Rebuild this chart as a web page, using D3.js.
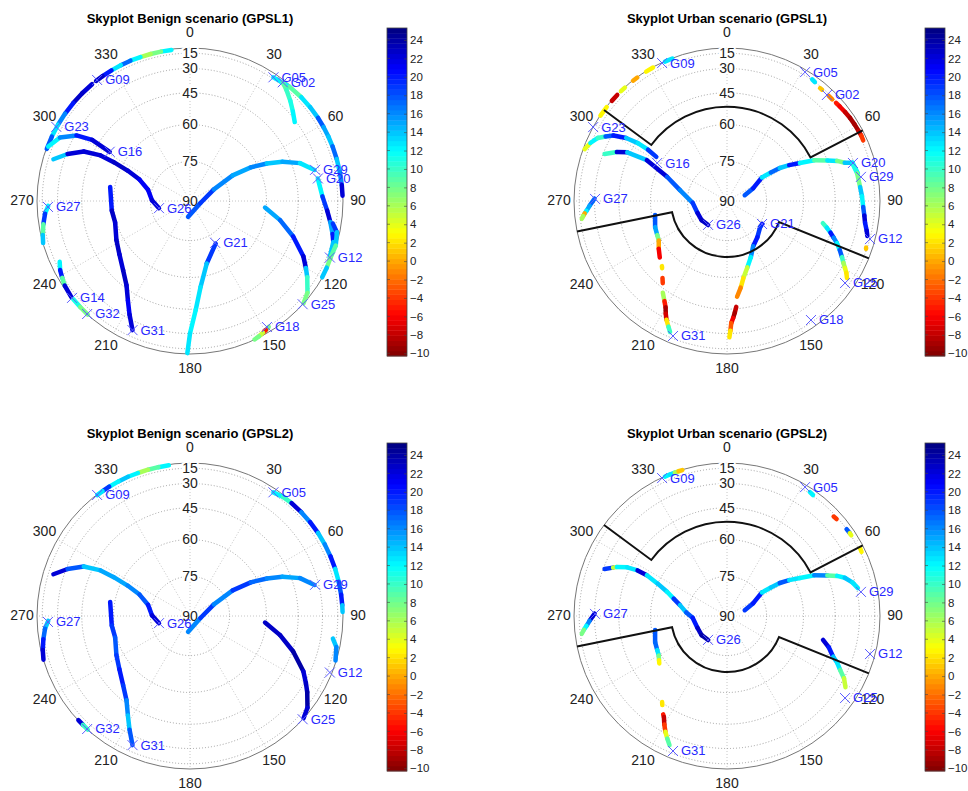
<!DOCTYPE html>
<html>
<head>
<meta charset="utf-8">
<script src="https://cdnjs.cloudflare.com/ajax/libs/d3/7.8.5/d3.min.js"></script>
<style>
  body { margin: 0; background: #fff; }
  svg { display: block; font-family: "Liberation Sans", Arial, Helvetica, sans-serif; }
</style>
</head>
<body>
<svg id="chart" width="968" height="791"></svg>
<script>
// ---- axes / colour range ----
const elevationTicks = [15, 30, 45, 60, 75, 90];
const azimuthTicks = d3.range(0, 360, 30);
const colorbarTicks = d3.range(-10, 25, 2);
const cn0Domain = [-10.3, 25.3];

// ---- satellites (marker = last epoch) ----
const benignSats = ["G09","G05","G02","G23","G16","G29","G20","G27","G26","G21","G12","G14","G32","G31","G25","G18"];
const benignAz   = [322.5, 34, 38, 299, 301.5, 76, 80, 267.6, 257, 149, 112, 230.6, 222.3, 204, 132.5, 148.6];
const benignEl   = [4.4, 12.8, 10, 2, 52, 32.6, 31.9, 21.7, 78, 71.4, 9.6, 4, 3, 22.5, 3, 15.2];
const benignL2Sats = ["G09","G05","G29","G27","G26","G12","G32","G31","G25"];

const urbanSats = ["G09","G05","G02","G23","G16","G20","G29","G27","G26","G21","G12","G25","G18","G31"];
const urbanAz   = [334.8, 31.2, 43.3, 298.9, 298.5, 73.2, 79.8, 270.9, 218.4, 123.3, 104.9, 124.8, 144.8, 201.8];
const urbanEl   = [5, 10, 17.8, 2, 58.7, 30.7, 27.2, 30.4, 78.5, 74.1, 14.7, 20, 17.8, 18.1];
const urbanL2Sats = ["G09","G05","G29","G27","G26","G12","G25","G31"];

// urban elevation mask: sector from azimuth, to azimuth, elevation
const maskFrom = [306.5, 112];
const maskTo   = [62.5, 258.5];
const maskEl   = [52, 68.5];

// ---- tracked arcs: [azimuth, elevation, C/N0 deviation] ----
const benignL1Arcs = [
  [[353,6,12],[349,6,8],[345,6,6],[341,6,12],[337,5,17],[333,5,13],[329,5,20],[325,5,23],[322,5,18]],
  [[320,5,22],[315,5,23],[310,5,20],[305,5,16],[300,5,13],[295,5,18],[290,5,13]],
  [[291,7,12],[296,19,16],[300,31,20],[302,41,22],[301.5,52,23]],
  [[287,21,14],[291,31,22],[295,40,22],[297,49,22],[297,56,23],[296,63,22],[293,69,21],[285,73.5,21],[271,75.6,22],[257,78,22]],
  [[187,84,18],[101,86,19],[64,80,16],[59,71,15],[61,63,16],[64,56,14],[67,49,15],[71,40.5,13],[76,33,14]],
  [[80,32,12],[88,30,19],[94,26,22],[98.5,22,15],[103,17,20],[106,13,14],[112,10,9]],
  [[99,19,19],[102,11,14],[107,5,9],[112,8,8],[116,6,14],[120,4,22]],
  [[34,13,12],[41,8,9],[47,6,13],[52,5,14],[57,4,18],[61,4,15],[65,4,14],[69,4,17],[74,4,14],[79,4,16],[84,4,22],[88,4,18]],
  [[38,10,9],[41,16,10],[45,22,11],[49,27,12],[53,31,9]],
  [[95,60.5,15],[102,53,17],[109,44.5,20],[116,34.5,22],[120,29,14],[123,24,10],[128,13,8],[132,3,12]],
  [[148,14,8],[149.5,12,-5],[151,10,5],[153,7,8],[155,3,11]],
  [[149,71,19],[165,65,14],[173,55.5,13],[177,44.5,12],[180,30,13],[181,6,8]],
  [[280,58,20],[263,59,23],[254,59.4,22],[242,57,23],[233,54.7,22],[224,51,23],[217,46.4,22],[212,40,21],[208,32.7,22],[204,22.5,20]],
  [[268,22,12],[265,18,19],[261,14,9],[257,9,14],[254,3,12]],
  [[245,20,12],[242,16,20],[239,13,9],[236,9,22],[231,4,18]],
  [[230,4,11],[226,4,8],[222,3,12]]
];

const benignL2Arcs = [
  [[352,6,12],[348,6,9],[344,6,6],[340,6,12],[336,5,14],[332,5,12],[328,5,19],[325,5,13],[322.5,5,22]],
  [[34,13,12],[38,9,10],[42,7,22],[47,6,16],[52,5,20],[57,4,14],[62,4,16],[67,4,20],[72,4,13],[77,4,18],[82,4,20],[86,4,14],[88.5,4,13]],
  [[187,84,16],[101,86,19],[64,80,16],[59,71,19],[61,63,17],[64,56,16],[67,49,15],[71,40.5,16],[76,33,18]],
  [[287,21,22],[291,31,18],[295,40,14],[297,49,15],[297,56,15],[296,63,16],[293,69,18],[285,73.5,20],[271,75.6,22],[257,78,21]],
  [[280,58,20],[263,59,19],[254,59.4,18],[242,57,19],[233,54.7,20],[224,51,19],[217,46.4,16],[212,40,14],[208,32.7,18],[204,22.5,20]],
  [[95,60.5,23],[102,53,23],[109,44.5,24],[116,34.5,22],[120,29,23],[123,24,24],[128,13,22],[132,3,21]],
  [[99,19,14],[102,12,16],[107,6,13]],
  [[268,22,14],[265,18,17],[261,14,20],[257,9,22],[253.4,2,13]],
  [[227,4,22],[224.5,4,10],[222,3,12]]
];

const urbanL1Arcs = [
  [[339,4,13],[336,4,4]], [[331,4,3],[328,4,1]], [[324,4,0],[322,4,3]],
  [[318,4,4],[316,4,-2]], [[314,4,-8],[311,4,4]], [[308,4,3],[304,4,0]],
  [[290,8,4],[293,14,12],[296,20,10],[298,26,18],[300,31,20],[302,39,14],[303,46,13],[303,52,19],[302,57,14]],
  [[291,31,10],[294,38,22],[296,43.5,14],[297,54,22],[292,65,18],[283,71.6,16],[267,77,19],[248,78,22],[233,78,23],[218,78.5,23]],
  [[271,30,17],[268,26,15],[266,23,12],[265,21,0],[264,19,6],[263,17,8]],
  [[259,61.4,18],[250,60,15],[244,59.5,8],[240,59,0],[235,57,-6],[230,55,-9]],
  [[225,53,2],[224,52.4,0]],
  [[220,49,-4],[218,47,-6]],
  [[215,43,6],[212,39.5,-5],[210,36.6,-9],[208.5,33,-7],[207,29.4,2],[205,25,10],[203.5,21,13]],
  [[123,74,20],[128,74,19],[140,72,20],[150,70,16],[157,66.5,12],[163,63,5],[168,59,2],[171,55,-1],[174,51,-4]],
  [[175,46,-8],[176,43,-9],[177,40,-6],[178,37,-3],[178.5,32,2],[179,27,8]],
  [[72,83,18],[64,79,20],[56,74,13],[57,70,17],[58,66,14],[60,62,20],[62.5,57.5,12],[65,51,9],[68,45,13],[70,40,8],[72,36,14],[73,31,13],[78,29,12]],
  [[74,31,11],[78,29.6,8],[84,29,14],[88,28,12],[92.5,27,18],[96,25.5,22],[99,24,20],[102,21,22],[104,19,12]],
  [[108.5,16.5,1],[109,16,0]],
  [[103,50,10],[105,47.5,13],[107,45,20],[109,42.5,16],[111,39.7,12],[113.5,36.5,18],[116,33.3,10],[118,30.5,6],[119.6,27.5,4],[121,24.5,2],[122.7,21.3,-8]],
  [[35,14,13],[36.5,15,12]], [[39.5,17,1],[40.5,17,0]], [[44,17,-1],[46,17,-4]],
  [[48,16.5,-5],[50,16,-6],[53,15,-8],[56,14,-9],[59,13.5,-9],[62,13,-8],[64,12.5,-4],[66,13,12]]
];

const urbanL2Arcs = [
  [[336,4,12],[338,4,13],[340,4,6],[341.5,4,1],[343,4,18]],
  [[33.8,13,12],[35.4,14,9]], [[47,17.6,-4],[48.5,17,1]],
  [[54,15,18],[56,14.5,4],[57,14.5,3]], [[63,12.5,3],[64.5,13,1]],
  [[72,83,19],[64,79,20],[56,74,13],[57,70,14],[58,66,18],[60,62,13],[62.5,57.5,12],[65,51,16],[68,45,9],[70,40,12],[72,36,14],[75,32,13],[78,29,20]],
  [[291,31,19],[293,36,5],[294,38,12],[296,43.5,13],[297,49,22],[297,54,13],[295,60,14],[292,65,12],[288,68.5,19],[283,71.6,14],[275,74.5,18],[267,77,20],[248,78,23],[233,78,24],[218,78.5,23]],
  [[271,30,22],[268,26,16],[266,23,12],[264.5,20,8],[263,17,6]],
  [[259,61.4,18],[250,60,17],[244,59.5,13],[240,59,8],[237,58,3],[235,57.3,-2]],
  [[217,45.2,2],[216,44,4]],
  [[213,40,-5],[212,38.9,-8],[210,35,-4],[208,31,4],[206,27,9],[204,22.5,12]],
  [[104,49.7,22],[107,46,20],[111,42,14],[113,38.5,13],[115.5,35,9],[118,30,5],[121,25.4,-2]]
];

// ---- layout ----
const R = 153;
const deg = Math.PI / 180;
const panels = [
  {cx: 190, cy: 201, top: 0, cbX: 387, title: "Skyplot Benign scenario (GPSL1)",
   arcs: benignL1Arcs, names: benignSats, az: benignAz, el: benignEl, show: benignSats, mask: false},
  {cx: 727, cy: 201, top: 0, cbX: 925, title: "Skyplot Urban scenario (GPSL1)",
   arcs: urbanL1Arcs, names: urbanSats, az: urbanAz, el: urbanEl, show: urbanSats, mask: true},
  {cx: 190, cy: 616, top: 415, cbX: 387, title: "Skyplot Benign scenario (GPSL2)",
   arcs: benignL2Arcs, names: benignSats, az: benignAz, el: benignEl, show: benignL2Sats, mask: false},
  {cx: 727, cy: 616, top: 415, cbX: 925, title: "Skyplot Urban scenario (GPSL2)",
   arcs: urbanL2Arcs, names: urbanSats, az: urbanAz, el: urbanEl, show: urbanL2Sats, mask: true}
];

const svg = d3.select("#chart");

// radius is R*cos(elevation); azimuth clockwise from north
const rScale = d3.scaleLinear().domain([0, 1]).range([0, R]);
const aScale = d3.scaleLinear().domain([0, 360]).range([0, 2 * Math.PI]);

function jet(t) {
  const c = v => Math.max(0, Math.min(1, v));
  return d3.rgb(255 * c(1.5 - Math.abs(4 * t - 3)),
                255 * c(1.5 - Math.abs(4 * t - 2)),
                255 * c(1.5 - Math.abs(4 * t - 1))).formatHex();
}
const jetColors = d3.range(64).map(i => jet(1 - (i + 0.5) / 64));
const color = d3.scaleQuantize().domain(cn0Domain).range(jetColors);

function drawPanel(p) {
  const g = svg.append("g");
  const proj = (az, el) => {
    const r = rScale(Math.cos(el * deg)), a = aScale(az);
    return [p.cx + r * Math.sin(a), p.cy - r * Math.cos(a)];
  };

  // title
  g.append("text")
    .attr("x", p.cx).attr("y", p.top + 20)
    .attr("text-anchor", "middle").attr("dominant-baseline", "middle")
    .attr("font-size", 13).attr("font-weight", "bold")
    .text(p.title);

  // spokes
  g.selectAll(".spoke").data(azimuthTicks).join("line")
    .attr("x1", p.cx).attr("y1", p.cy)
    .attr("x2", d => proj(d, 0)[0]).attr("y2", d => proj(d, 0)[1])
    .attr("stroke", "#b8b8b8").attr("stroke-width", 0.8).attr("stroke-dasharray", "1,2");

  // elevation rings
  g.selectAll(".ring").data(elevationTicks.slice(0, -1)).join("circle")
    .attr("cx", p.cx).attr("cy", p.cy)
    .attr("r", d => rScale(Math.cos(d * deg)))
    .attr("fill", "none").attr("stroke", "#8a8a8a").attr("stroke-width", 0.8).attr("stroke-dasharray", "1,2");

  g.append("circle")
    .attr("cx", p.cx).attr("cy", p.cy).attr("r", R)
    .attr("fill", "none").attr("stroke", "#777").attr("stroke-width", 1);

  // azimuth labels
  g.selectAll(".azl").data(azimuthTicks).join("text")
    .attr("x", d => p.cx + (R + 15) * Math.sin(aScale(d)))
    .attr("y", d => p.cy - (R + 15) * Math.cos(aScale(d)))
    .attr("text-anchor", "middle").attr("dominant-baseline", "middle")
    .attr("font-size", 14).attr("fill", "#222")
    .text(d => d);

  // elevation labels
  g.selectAll(".ell").data(elevationTicks).join("text")
    .attr("x", p.cx)
    .attr("y", d => p.cy - rScale(Math.cos(d * deg)) + 1)
    .attr("text-anchor", "middle").attr("dominant-baseline", "middle")
    .attr("font-size", 14).attr("fill", "#222")
    .attr("stroke", "#fff").attr("stroke-width", 4).attr("paint-order", "stroke")
    .text(d => d);

  // tracks: each segment coloured by the value at its start
  const segs = [];
  p.arcs.forEach(arc => {
    for (let i = 0; i < arc.length - 1; i++) {
      segs.push({a: proj(arc[i][0], arc[i][1]), b: proj(arc[i + 1][0], arc[i + 1][1]), v: arc[i][2]});
    }
  });
  g.selectAll(".seg").data(segs).join("line")
    .attr("x1", d => d.a[0]).attr("y1", d => d.a[1])
    .attr("x2", d => d.b[0]).attr("y2", d => d.b[1])
    .attr("stroke", d => color(d.v))
    .attr("stroke-width", 4.5).attr("stroke-linecap", "round");

  // urban elevation mask
  if (p.mask) {
    maskFrom.forEach((from, i) => {
      let to = maskTo[i];
      if (to < from) to += 360;
      const rm = rScale(Math.cos(maskEl[i] * deg));
      const path = d3.path();
      const p0 = proj(from, 0), p1 = proj(from, maskEl[i]), p3 = proj(to, 0);
      path.moveTo(p0[0], p0[1]);
      path.lineTo(p1[0], p1[1]);
      path.arc(p.cx, p.cy, rm, aScale(from) - Math.PI / 2, aScale(to) - Math.PI / 2, false);
      path.lineTo(p3[0], p3[1]);
      g.append("path").attr("d", path.toString())
        .attr("fill", "none").attr("stroke", "#111").attr("stroke-width", 2);
    });
  }

  // markers + labels
  const sats = p.show.map(n => {
    const i = p.names.indexOf(n);
    return {name: n, pt: proj(p.az[i], p.el[i])};
  });
  const mk = g.selectAll(".mk").data(sats).join("g")
    .attr("transform", d => `translate(${d.pt[0]},${d.pt[1]})`);
  mk.append("path").attr("d", "M-5,-5L5,5M-5,5L5,-5")
    .attr("stroke", "#5a5aff").attr("stroke-width", 1).attr("fill", "none");
  mk.append("text")
    .attr("x", 8).attr("y", 1)
    .attr("dominant-baseline", "middle")
    .attr("font-size", 13).attr("fill", "#2828ff")
    .text(d => d.name);

  // colorbar
  const cbTop = p.top + 28, cbBot = p.top + 356, cbW = 20;
  const cbScale = d3.scaleLinear().domain(cn0Domain).range([cbBot, cbTop]);
  const step = (cn0Domain[1] - cn0Domain[0]) / 64;
  g.selectAll(".band").data(jetColors).join("rect")
    .attr("x", p.cbX).attr("width", cbW)
    .attr("y", (d, i) => cbScale(cn0Domain[0] + (i + 1) * step))
    .attr("height", (d, i) => cbScale(cn0Domain[0] + i * step) - cbScale(cn0Domain[0] + (i + 1) * step) + 0.4)
    .attr("fill", d => d);
  g.append("rect")
    .attr("x", p.cbX).attr("y", cbTop).attr("width", cbW).attr("height", cbBot - cbTop)
    .attr("fill", "none").attr("stroke", "#444").attr("stroke-width", 0.8);

  const axis = g.append("g")
    .attr("transform", `translate(${p.cbX + cbW},0)`)
    .call(d3.axisRight(cbScale).tickValues(colorbarTicks).tickSize(-3).tickPadding(3));
  axis.select(".domain").remove();
  axis.selectAll(".tick line").attr("stroke", "#444").attr("stroke-width", 0.6);
  axis.selectAll(".tick text")
    .attr("font-size", 11.5).attr("fill", "#222")
    .attr("font-family", "Liberation Sans, Arial, sans-serif");
  g.selectAll(".ltick").data(colorbarTicks).join("line")
    .attr("x1", p.cbX).attr("x2", p.cbX + 3)
    .attr("y1", d => cbScale(d)).attr("y2", d => cbScale(d))
    .attr("stroke", "#444").attr("stroke-width", 0.6);
}

panels.forEach(drawPanel);
</script>
</body>
</html>
